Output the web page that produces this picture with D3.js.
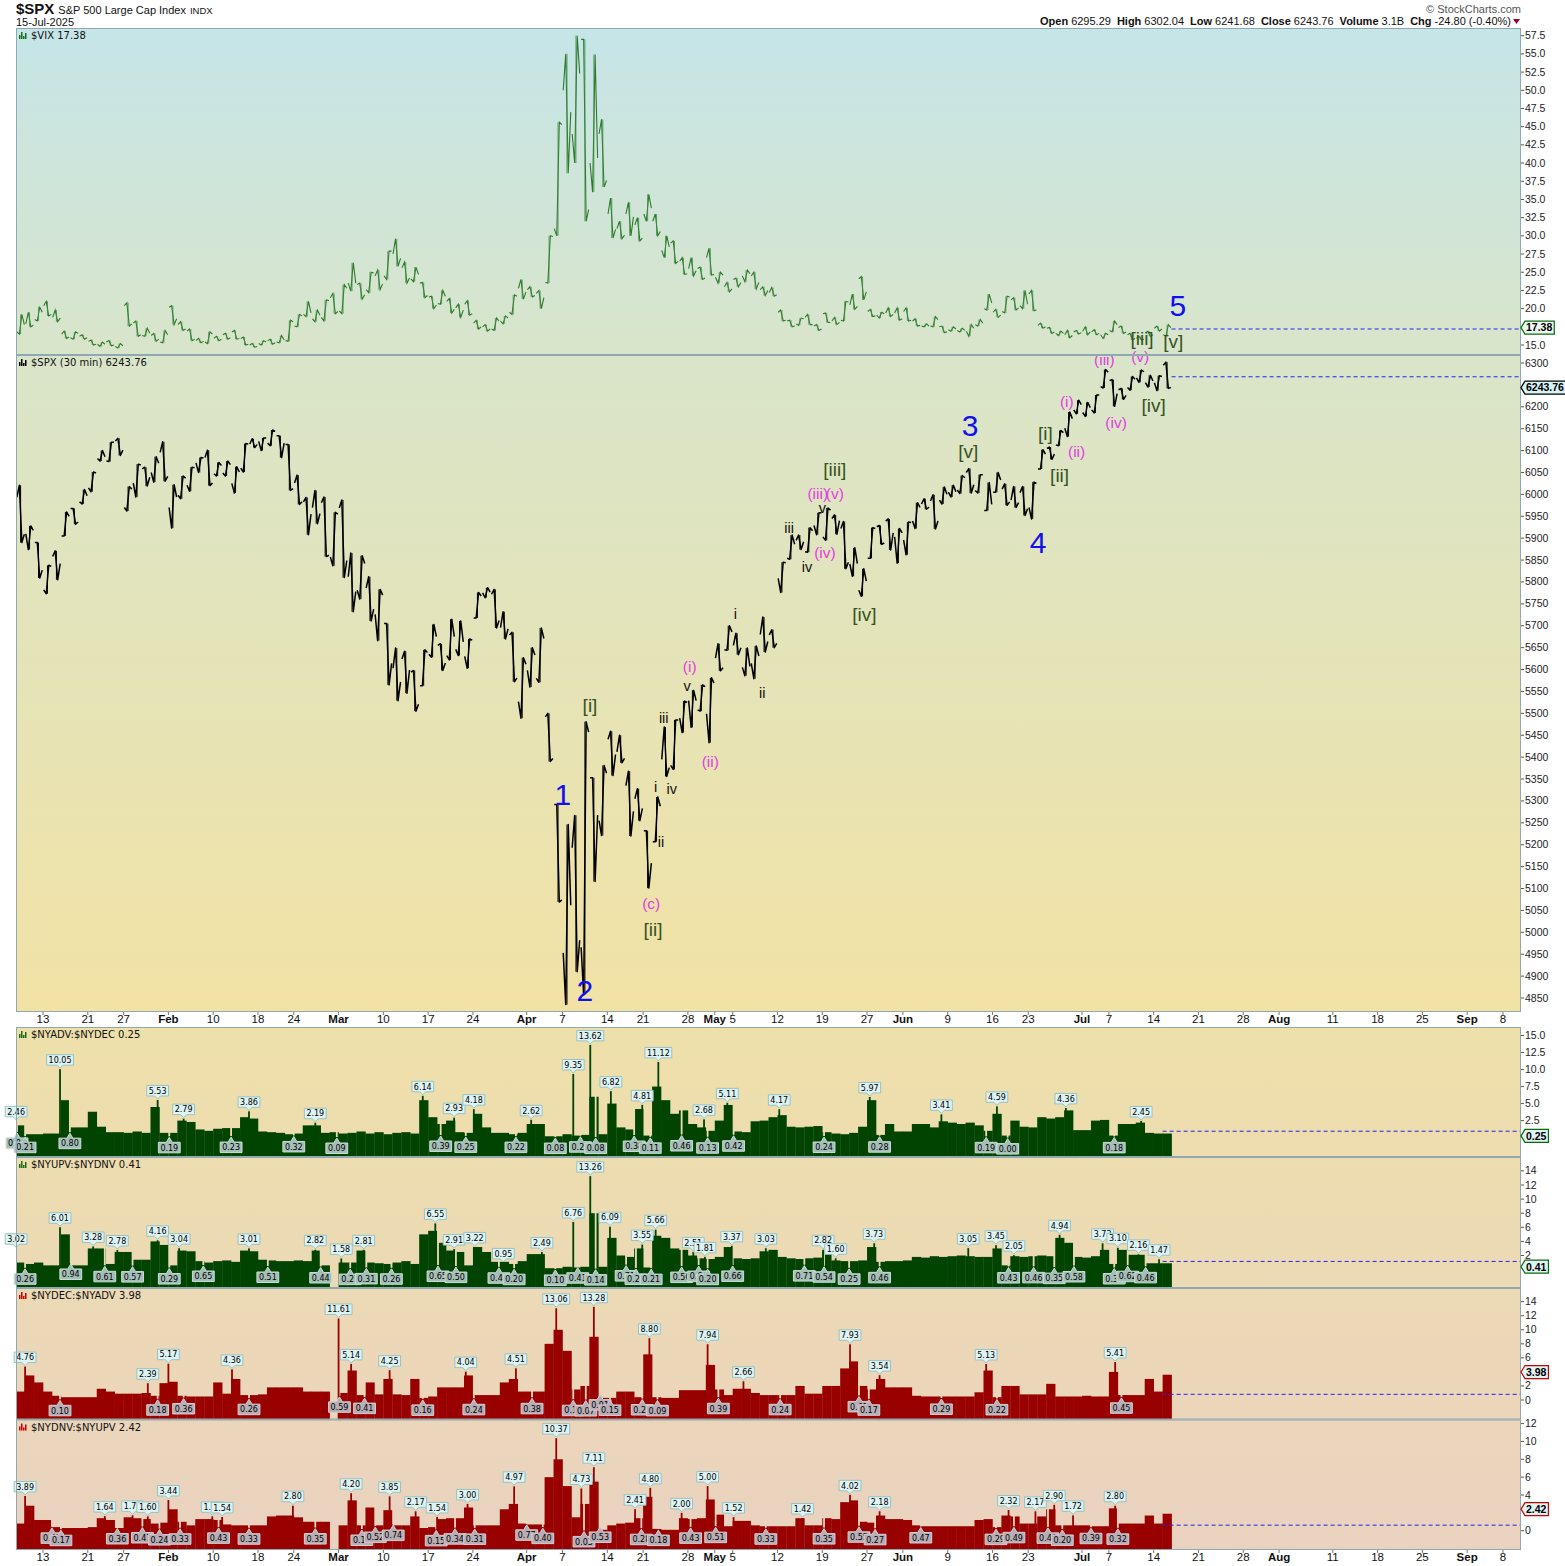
<!DOCTYPE html>
<html><head><meta charset="utf-8">
<script src="https://cdn.jsdelivr.net/npm/d3@7/dist/d3.min.js"></script>
<style>
html,body{margin:0;padding:0;background:#fff;}
</style></head><body>
<svg id="chart" width="1565" height="1566" font-family="'DejaVu Sans',Verdana,sans-serif"></svg>
<script>
// ================= DATA =================
// trading-day index: Jan 13 2025 = 0 ; first bar = Jan 7 (index -3), last = Jul 15 (index 125)
const firstIdx = -3;

// $SPX daily open/high/low/close (30-min bars condensed per session)
const spxOpen = [5993,5910,5890,
 5782,5858,5905,5968,5983,6015,6082,6076,6122,
 5970,6026,6058,6050,6096, 5970,5998,6021,6072,6084, 6047,6049,6025,6060,6115, 6121,6117,6134,6114,
 6026,5983,5970,5981,5857, 5969,5812,5781,5786,5726, 5705,5603,5624,5594,5563, 5635,5655,5632,5646,5630,
 5718,5775,5772,5696,5679, 5527,5598,5580,5492,5292, 4953,5193,4966,5353,5255, 5441,5412,5335,5305,
 5232,5207,5395,5381,5489, 5529,5508,5499,5626,5645, 5655,5605,5614,5680,5679, 5808,5854,5895,5869,5929,
 5903,5945,5922,5841,5781, 5854,5926,5939,5903, 5896,5939,5978,5985,5987, 6005,6010,6050,6009,5963,
 6005,6012,5987,6004, 5970,6058,6105,6113,6151, 6193,6187,6193,6246, 6260,6239,6244,6266,6255, 6255,6295];
const spxHigh = [6021,5928,5890,
 5838,5871,5960,5968,6011,6051,6100,6119,6128,
 6018,6069,6062,6086,6120, 6022,6042,6062,6084,6101, 6073,6076,6063,6116,6127, 6129,6147,6134,6114,
 6044,5993,6009,5994,5959, 5987,5866,5860,5812,5783, 5705,5649,5642,5598,5645, 5703,5659,5715,5711,5670,
 5776,5787,5783,5732,5685, 5627,5650,5695,5500,5292, 5246,5267,5481,5353,5381, 5459,5450,5368,5328,
 5232,5309,5469,5485,5528, 5553,5565,5581,5659,5700, 5683,5649,5654,5720,5691, 5845,5907,5907,5924,5958,
 5969,5953,5938,5878,5830, 5924,5929,5944,5922, 5937,5981,5990,5999,6017, 6021,6043,6059,6045,6027,
 6050,6024,6018,6018, 6028,6102,6108,6146,6188, 6215,6210,6227,6285, 6262,6242,6269,6284,6272, 6271,6302];
const spxLow = [5890,5874,5809,
 5773,5805,5905,5932,5978,6006,6076,6075,6089,
 5962,5994,6019,6028,6030, 5923,5990,6007,6050,6020, 6042,6042,6003,6051,6107, 6100,6111,6084,6009,
 5977,5908,5933,5858,5837, 5810,5732,5761,5711,5666, 5565,5529,5546,5505,5563, 5628,5598,5622,5632,5603,
 5718,5764,5695,5670,5572, 5489,5560,5571,5390,5069, 4835,4910,4857,5116,5221, 5358,5387,5220,5255,
 5101,5207,5356,5372,5456, 5468,5505,5433,5597,5644, 5634,5586,5579,5640,5650, 5776,5852,5874,5868,5908,
 5895,5909,5830,5813,5767, 5854,5886,5873,5843, 5862,5922,5966,5921,5978, 5994,6002,6003,6003,5963,
 6005,5975,5970,5952, 5944,6058,6080,6111,6132, 6184,6178,6186,6243, 6201,6217,6238,6256,6245, 6237,6242];
const spxClose = [5909,5918,5827,
 5836,5842,5950,5937,5997,6049,6086,6119,6101,
 6012,6067,6039,6071,6041, 5994,6037,6061,6083,6026, 6066,6068,6051,6115,6114, 6129,6144,6117,6013,
 5983,5955,5956,5861,5955, 5849,5778,5842,5738,5770, 5614,5572,5599,5521,5639, 5675,5615,5675,5663,5667,
 5768,5777,5712,5693,5581, 5612,5633,5671,5397,5074, 5062,4982,5457,5268,5363, 5406,5397,5276,5283,
 5158,5288,5376,5485,5525, 5529,5561,5569,5604,5686, 5650,5607,5631,5664,5660, 5844,5886,5892,5917,5958,
 5964,5940,5845,5842,5802, 5922,5889,5912,5912, 5936,5970,5971,5939,6000, 6006,6038,6022,6045,5977,
 6033,5983,5981,5967, 6025,6092,6092,6141,6173, 6205,6198,6227,6279, 6230,6226,6263,6280,6259, 6269,6244];

// $VIX daily open/high/low/close
const vixOpen = [16.8,17.9,18.5,
 20.4,18.8,16.5,16.0,16.2,15.5,15.1,15.4,14.8,
 20.4,18.0,16.3,16.3,15.4, 20.2,17.8,16.9,15.6,15.4, 15.9,16.4,16.8,15.9,15.0, 15.2,15.6,15.4,15.6,
 17.6,19.2,18.6,18.8,21.5, 19.7,23.5,23.3,22.6,24.5, 24.5,27.5,25.6,24.1,23.5, 21.6,20.7,21.0,20.1,20.6,
 18.0,17.5,17.2,18.3,19.5, 22.8,22.6,22.1,23.6,31.0, 50.0,44.0,57.0,40.0,44.0, 33.0,31.0,33.0,31.5,
 33.0,32.0,28.0,29.0,26.5, 25.5,25.5,27.0,24.3,23.0, 24.0,24.5,24.5,22.6,22.2, 19.5,18.3,17.9,18.8,17.6,
 19.3,18.3,18.4,20.5,24.1, 19.6,19.1,19.4,19.4, 19.6,18.3,17.6,17.6,17.5, 17.1,17.0,16.9,17.8,20.0,
 19.5,19.6,21.2,20.4, 22.0,17.7,17.3,16.6,16.4, 16.8,16.9,16.8,16.4, 17.0,17.4,16.4,15.9,16.7, 17.3,16.4];
const vixHigh = [19.2,19.5,20.2,
 21.0,19.8,16.9,16.8,16.4,15.7,15.4,15.6,15.2,
 20.8,18.3,17.3,16.6,17.0, 20.4,18.2,17.2,15.9,16.8, 16.2,16.6,17.0,16.1,15.2, 15.6,15.8,16.3,18.4,
 19.2,21.0,19.8,21.2,22.1, 23.3,26.3,23.5,25.0,25.3, 27.9,29.6,26.4,25.7,23.6, 21.7,22.5,21.4,20.6,21.1,
 18.4,17.8,18.7,19.0,21.9, 24.0,23.0,22.5,30.0,45.6, 55.0,57.5,57.0,54.9,46.0, 35.2,32.0,34.6,32.5,
 35.7,33.0,30.0,29.3,27.0, 27.0,25.7,28.3,25.0,23.6, 24.2,25.3,25.0,23.0,22.9, 19.8,18.4,18.7,19.2,17.8,
 19.4,18.8,21.0,22.0,24.4, 19.9,19.5,20.1,20.1, 20.1,18.6,17.9,18.9,17.6, 17.5,17.3,17.8,18.5,22.0,
 19.9,21.7,21.5,22.5, 22.5,18.0,17.4,16.9,17.0, 17.0,17.5,17.1,16.6, 18.3,17.6,16.6,16.2,16.9, 17.6,17.8];
const vixLow = [16.5,17.5,18.3,
 19.0,18.2,15.9,15.8,15.8,15.0,14.8,14.9,14.6,
 17.6,16.2,16.2,15.5,15.3, 17.8,17.0,15.6,15.3,15.2, 15.6,15.8,15.8,15.0,14.7, 15.0,15.1,15.3,15.5,
 17.5,18.9,18.2,18.3,19.3, 19.3,22.4,21.3,22.2,22.6, 24.0,25.8,23.5,23.7,21.5, 20.0,20.6,19.4,18.8,19.1,
 17.2,16.9,17.0,17.9,19.2, 21.3,21.6,20.0,23.5,30.0, 38.6,40.0,32.0,36.0,36.7, 29.7,29.6,30.0,29.3,
 32.0,30.0,27.0,26.2,24.7, 24.5,24.0,24.6,23.5,22.3, 23.0,23.7,22.7,21.8,21.7, 18.3,17.5,17.7,17.8,17.0,
 18.1,17.8,18.3,19.9,21.2, 18.9,18.7,18.9,18.4, 18.3,17.6,17.5,17.5,16.7, 16.9,16.8,16.2,17.6,19.8,
 18.8,19.4,19.8,20.0, 19.7,17.3,16.6,16.3,16.0, 16.5,16.4,16.4,15.9, 16.8,16.6,15.7,15.7,16.2, 16.9,16.2];
const vixClose = [17.8,17.7,19.5,
 19.2,18.7,16.1,16.6,16.0,15.1,15.1,15.0,14.9,
 17.9,16.4,16.6,15.8,16.4, 18.6,17.2,15.8,15.5,16.5, 15.8,16.0,15.9,15.1,14.8, 15.4,15.3,15.7,18.2,
 19.0,19.4,19.1,21.1,19.6, 22.8,23.5,21.9,24.9,23.4, 27.9,26.9,24.2,24.7,21.8, 20.5,21.7,19.9,19.8,19.3,
 17.5,17.2,18.3,18.7,21.7, 22.3,21.8,21.5,29.9,45.3, 47.0,52.3,33.6,40.7,37.6, 30.9,30.1,32.6,29.7,
 33.8,30.6,28.5,26.5,24.8, 25.2,24.2,24.7,24.6,22.7, 23.6,24.8,23.6,22.5,21.9, 18.4,17.6,18.6,17.8,17.2,
 18.1,18.1,20.9,20.3,22.3, 19.0,19.3,19.2,18.6, 18.4,17.7,17.6,18.5,16.8, 17.2,17.0,17.3,18.0,20.8,
 19.1,21.6,20.1,20.6, 19.8,17.5,16.8,16.6,16.3, 16.7,16.8,16.6,16.4, 17.8,16.8,15.9,15.8,16.4, 17.2,17.4];

// Breadth ratios, typical level per session (null = missing data)
const advDec = [1.8,0.5,0.5,
 0.6,0.6,5.5,1.5,1.5,3.8,1.6,0.8,0.8,
 0.7,0.9,0.7,4.5,0.7, 0.7,2.5,2.3,1.2,1.0, 1.3,1.4,1.4,3.0,2.8, 0.9,0.8,0.7,0.5,
 0.6,1.8,1.8,0.7,0.8, 0.6,0.7,0.9,0.6,0.8, 0.5,0.7,0.8,0.6,5.5, 3.0,2.0,2.5,0.8,0.7,
 3.5,1.5,0.7,0.7,0.5, 0.7,2.0,2.0,0.2,0.2, 0.5,0.3,0.4,6.0,0.5, 5.0,1.5,1.2,4.2,
 0.3,7.5,5.5,3.5,4.0, 2.0,1.5,1.0,2.5,4.8, 0.9,0.8,2.4,2.5,3.0, 3.3,1.6,1.5,1.6,1.7,
 0.8,0.6,0.5,0.7,1.6, 5.5,0.4,2.0,0.9, 0.9,2.0,2.0,1.5,2.4, 2.2,2.0,2.2,1.8,1.0,
 3.5,0.3,2.5,1.6, 1.5,3.0,2.8,3.0,4.0, 1.1,1.1,2.5,2.6, 0.3,2.0,2.0,2.2,0.7, 0.6,0.6];
const upvDnv = [1.0,0.8,1.0,
 0.6,0.6,5.0,0.6,0.6,3.0,3.0,0.8,2.5,
 2.5,1.4,1.4,4.0,3.5, 0.6,2.7,2.6,1.2,1.0, 1.2,1.3,1.1,2.7,2.6, 1.4,1.3,1.2,1.2,
 1.3,1.2,2.7,0.6,null, 1.0,1.0,2.7,1.0,0.9, 0.8,1.0,1.2,0.8,5.0, 5.5,3.8,2.7,2.5,0.6,
 3.2,2.5,1.1,1.1,0.8, 1.2,2.2,2.2,0.2,0.2, 0.4,0.3,0.4,8.0,0.4, 4.5,2.0,1.8,3.0,
 0.3,4.8,4.5,3.0,2.8, 2.0,1.6,1.5,1.8,3.2, 1.6,1.5,1.6,2.6,2.8, 1.8,1.6,1.5,1.6,1.7,
 2.6,1.3,1.2,1.2,1.3, 3.2,1.1,1.2,1.2, 1.3,1.8,1.7,1.9,1.8, 1.9,2.0,1.9,1.8,1.8,
 3.0,0.6,1.9,1.8, 1.9,2.0,1.9,4.5,3.8, 1.8,1.7,1.9,2.8, 0.8,2.8,2.1,2.1,0.9, 0.9,0.9];
const decAdv = [1.2,3.5,2.5,
 1.2,0.6,0.4,0.4,0.4,0.4,1.6,1.2,0.9,
 0.9,0.9,1.0,0.6,2.4, 2.6,0.6,0.5,0.5,0.5, 2.5,0.9,3.0,0.7,0.7, 0.8,1.8,1.8,1.8,
 1.8,1.2,1.2,1.2,null, 1.0,4.2,0.7,2.5,0.8, 3.0,0.8,0.7,3.0,0.3, 0.5,1.8,1.8,1.8,3.5,
 0.7,0.7,0.7,2.5,3.0, 1.2,1.2,1.2,8.0,10.0, 7.0,1.5,2.0,9.0,0.3, 0.3,1.2,1.2,0.4,
 6.5,0.4,0.3,0.3,1.4, 1.4,1.4,5.0,1.5,0.7, 1.6,1.6,1.0,0.7,0.7, 0.7,0.7,2.0,0.9,0.9,
 2.0,2.0,4.5,5.5,2.0, 1.5,3.0,1.8,1.8, 1.8,0.6,0.5,0.5,0.5, 0.5,0.5,0.5,1.1,4.2,
 0.4,2.0,2.0,0.8, 0.8,0.8,2.3,0.5,0.5, 0.5,0.6,0.5,0.5, 4.0,0.7,0.7,0.7,3.0, 1.2,3.6];
const dnvUpv = [0.8,2.8,1.2,
 1.2,0.4,0.3,0.3,0.3,0.4,1.4,1.2,0.3,
 1.5,1.4,1.3,0.8,0.9, 2.4,1.0,0.6,1.3,1.3, 1.2,0.7,0.6,0.6,0.6, 0.6,1.6,1.7,1.7,
 1.5,1.0,1.0,1.0,null, 0.6,3.4,0.6,2.6,0.6, 2.3,0.6,0.6,1.6,0.3, 0.4,1.3,1.4,1.4,2.6,
 0.6,0.6,0.6,2.4,3.0, 0.8,0.7,0.7,6.0,8.0, 5.0,1.5,3.0,5.5,0.1, 0.6,0.8,0.9,1.4,
 3.8,0.2,0.1,0.1,1.4, 1.3,1.4,3.5,1.8,0.5, 1.1,1.1,0.6,0.5,0.5, 0.5,0.5,1.4,0.6,0.6,
 1.4,1.3,3.2,3.4,1.0, 0.9,1.7,1.3,1.3, 1.2,0.6,0.5,0.5,0.5, 0.5,0.5,0.5,1.2,1.3,
 0.4,1.7,1.6,0.8, 0.8,1.6,2.4,0.6,0.6, 0.6,0.6,0.5,0.5, 2.5,0.8,0.8,0.8,1.7, 0.8,1.9];

// flagged extremes: [trading-day index, value]
const advDecPeaks = [[-3.0,2.46],[1.9,10.05],[12.8,5.53],[15.7,2.79],[23.0,3.86],[30.4,2.19],[42.4,6.14],[45.9,2.93],[48.1,4.18],[54.5,2.62],[59.2,9.35],[61.1,13.62],[63.4,6.82],[66.9,4.81],[68.7,11.12],[73.8,2.68],[76.4,5.11],[82.2,4.17],[92.3,5.97],[100.3,3.41],[106.5,4.59],[114.2,4.36],[122.6,2.45]];
const advDecTroughs = [[-2.9,0.84],[-2.0,0.21],[3.0,0.80],[14.1,0.19],[21.0,0.23],[28.0,0.32],[32.8,0.09],[44.4,0.39],[47.2,0.25],[52.8,0.22],[57.2,0.08],[60.0,0.28],[61.7,0.08],[66.0,0.38],[67.8,0.11],[71.3,0.46],[74.2,0.13],[77.1,0.42],[87.2,0.24],[93.4,0.28],[105.3,0.19],[107.7,0.00],[119.6,0.18]];
const upvDnvPeaks = [[-3.0,3.02],[1.9,6.01],[5.6,3.28],[8.3,2.78],[12.8,4.16],[15.2,3.04],[23.0,3.01],[30.4,2.82],[33.3,1.58],[35.8,2.81],[43.8,6.55],[45.9,2.91],[48.2,3.22],[51.4,0.95],[55.7,2.49],[59.2,6.76],[61.1,13.26],[63.3,6.09],[66.9,3.55],[68.4,5.66],[72.6,2.51],[73.9,1.81],[76.9,3.37],[80.7,3.03],[87.1,2.82],[88.5,1.60],[92.8,3.73],[103.3,3.05],[106.4,3.45],[108.4,2.05],[113.5,4.94],[118.3,3.73],[120.0,3.10],[122.3,2.16],[124.6,1.47]];
const upvDnvTroughs = [[-2.0,0.26],[3.1,0.94],[6.9,0.61],[10.0,0.57],[14.1,0.29],[17.9,0.65],[25.1,0.51],[31.0,0.44],[34.3,0.21],[36.1,0.31],[38.9,0.26],[44.1,0.65],[46.1,0.50],[50.9,0.40],[52.6,0.20],[57.2,0.10],[59.7,0.41],[61.7,0.14],[65.1,0.71],[66.2,0.23],[67.9,0.21],[71.3,0.50],[73.2,0.64],[74.2,0.20],[77.0,0.66],[85.0,0.71],[87.2,0.54],[90.0,0.25],[93.4,0.46],[107.8,0.43],[110.6,0.46],[112.9,0.35],[115.1,0.58],[119.6,0.30],[121.1,0.62],[123.1,0.46]];
const decAdvPeaks = [[-2.0,4.76],[11.7,2.39],[14.0,5.17],[21.1,4.36],[33.0,11.61],[34.4,5.14],[38.7,4.25],[47.2,4.04],[52.8,4.51],[57.3,13.06],[61.5,13.28],[67.7,8.80],[74.2,7.94],[78.2,2.66],[90.1,7.93],[93.4,3.54],[105.3,5.13],[119.7,5.41]];
const decAdvTroughs = [[1.9,0.10],[12.8,0.18],[15.7,0.36],[23.0,0.26],[33.1,0.59],[35.9,0.41],[42.4,0.16],[48.1,0.24],[54.6,0.38],[59.2,0.11],[60.6,0.07],[62.2,0.91],[63.3,0.15],[66.9,0.21],[68.6,0.09],[75.4,0.39],[82.3,0.24],[91.1,0.65],[92.2,0.17],[100.3,0.29],[106.5,0.22],[120.4,0.45]];
const dnvUpvPeaks = [[-2.0,3.89],[6.9,1.64],[10.0,1.72],[11.7,1.60],[14.0,3.44],[18.9,1.61],[20.0,1.54],[27.9,2.80],[34.4,4.20],[38.7,3.85],[41.6,2.17],[44.0,1.54],[47.4,3.00],[52.6,4.97],[57.3,10.37],[60.1,4.73],[61.5,7.11],[66.1,2.41],[67.8,4.80],[71.3,2.00],[74.2,5.00],[77.1,1.52],[84.8,1.42],[90.1,4.02],[93.4,2.18],[107.8,2.32],[110.8,2.17],[112.9,2.90],[115.0,1.72],[119.7,2.80]];
const dnvUpvTroughs = [[1.0,0.43],[2.0,0.17],[8.3,0.36],[11.1,0.47],[13.0,0.24],[15.3,0.33],[19.6,0.43],[23.0,0.33],[30.4,0.35],[35.6,0.19],[37.1,0.52],[39.1,0.74],[43.9,0.15],[46.0,0.34],[48.2,0.31],[54.0,0.77],[55.8,0.40],[60.4,0.03],[62.2,0.53],[66.8,0.28],[68.7,0.18],[72.3,0.43],[75.1,0.51],[80.7,0.33],[87.2,0.35],[91.1,0.55],[92.9,0.27],[98.0,0.47],[106.4,0.29],[108.4,0.49],[112.2,0.43],[113.8,0.20],[117.0,0.39],[120.0,0.32]];

// last values and previous-close reference lines
const lastValues = {vix:17.38, spx:6243.76, advDec:0.25, upvDnv:0.41, decAdv:3.98, dnvUpv:2.42};
const prevValues = {vix:17.20, spx:6268.56, advDec:0.94, upvDnv:1.16, decAdv:0.81, dnvUpv:0.62};

// x axis ticks (trading-day index)
const tickIdx = [0,5,9,14,19,24,28,33,38,43,48,54,58,63,67,72,75,77,82,87,92,96,101,106,110,116,119,124,129,134,138,144,149,154,159,163];
const tickLabels = ["13","21","27","Feb","10","18","24","Mar","10","17","24","Apr","7","14","21","28","May","5","12","19","27","Jun","9","16","23","Jul","7","14","21","28","Aug","11","18","25","Sep","8"];
const monthLabels = ["Feb","Mar","Apr","May","Jun","Jul","Aug","Sep"];

// y axis ticks
const vixTicks = [15.0,20.0,22.5,25.0,27.5,30.0,32.5,35.0,37.5,40.0,42.5,45.0,47.5,50.0,52.5,55.0,57.5];
const spxTicks = [4850,4900,4950,5000,5050,5100,5150,5200,5250,5300,5350,5400,5450,5500,5550,5600,5650,5700,5750,5800,5850,5900,5950,6000,6050,6100,6150,6200,6300];
const advDecTicks = [2.5,5.0,7.5,10.0,12.5,15.0];
const upvDnvTicks = [2,4,6,8,10,12,14];
const decAdvTicks = [0,2,6,8,10,12,14];
const dnvUpvTicks = [0,4,6,8,10,12];

// Elliott wave annotations: [text, trading-day index, price level, degree]
const waveLabels = [
 ["1",58.05,5314,"major"],["2",60.5,4868,"major"],["3",103.5,6158,"major"],["4",111.1,5891,"major"],["5",126.7,6432,"major"],
 ["[i]",61.07,5517,"inter"],["[ii]",68.1,5007,"inter"],["[iii]",88.4,6056,"inter"],["[iv]",91.7,5725,"inter"],["[v]",103.3,6097,"inter"],
 ["[i]",111.9,6140,"inter"],["[ii]",113.5,6042,"inter"],["[iii]",122.7,6355,"inter"],["[iv]",124.0,6204,"inter"],["[v]",126.2,6350,"inter"],
 ["(c)",67.9,5065,"minor"],["(i)",72.2,5606,"minor"],["(ii)",74.5,5391,"minor"],["(iii)",86.5,6001,"minor"],["(iv)",87.3,5868,"minor"],["(v)",88.4,6001,"minor"],
 ["(i)",114.3,6213,"minor"],["(ii)",115.4,6099,"minor"],["(iii)",118.5,6309,"minor"],["(iv)",119.8,6165,"minor"],["(v)",122.5,6314,"minor"],
 ["i",68.4,5332,"minute"],["ii",69.0,5206,"minute"],["iii",69.3,5489,"minute"],["iv",70.2,5327,"minute"],["v",71.9,5562,"minute"],
 ["i",77.3,5727,"minute"],["ii",80.3,5546,"minute"],["iii",83.3,5923,"minute"],["iv",85.3,5834,"minute"],["v",87.0,5969,"minute"]
];

// ================= LAYOUT =================
const L = 16, R = 1521;
const SANS = "'Liberation Sans',Arial,Helvetica,sans-serif";
const NARROW = "'Liberation Sans Narrow','Arial Narrow','Liberation Sans',Arial,sans-serif";
const svg = d3.select("#chart");
const defs = svg.append("defs");
const x = d3.scaleLinear().domain([0, 163]).range([43, 43 + 163 * 8.957]);

const P = {
  vix: {t:28, b:355, y: d3.scaleLinear().domain([15, 57.5]).range([345, 35.7])},
  spx: {t:355, b:1012, y: d3.scaleLinear().domain([4850, 6300]).range([998, 363])},
  advDec: {t:1027, b:1157, y: d3.scaleLinear().domain([2.5, 15]).range([1120.6, 1035.5])},
  upvDnv: {t:1157, b:1288, y: d3.scaleLinear().domain([2, 14]).range([1255.5, 1170.9])},
  decAdv: {t:1288, b:1419.5, y: d3.scaleLinear().domain([0, 14]).range([1400, 1301.7])},
  dnvUpv: {t:1419.5, b:1550, y: d3.scaleLinear().domain([0, 12]).range([1530.7, 1423.6])}
};

function grad(id, y1, y2, stops){
  const g = defs.append("linearGradient").attr("id", id).attr("gradientUnits","userSpaceOnUse")
    .attr("x1",0).attr("x2",0).attr("y1",y1).attr("y2",y2);
  stops.forEach(([o,c]) => g.append("stop").attr("offset", o).attr("stop-color", c));
}
grad("gTop", 28, 1012, [[0,"#c5e5e8"],[0.33,"#d9e5ca"],[1,"#f2e2a4"]]);
grad("gBot", 1027, 1550, [[0,"#eee0aa"],[1,"#ead2c0"]]);

Object.entries(P).forEach(([k,p]) => {
  defs.append("clipPath").attr("id","clip-"+k).append("rect").attr("x",L).attr("y",p.t).attr("width",R-L).attr("height",p.b-p.t);
});

svg.append("rect").attr("x",L).attr("y",28).attr("width",R-L).attr("height",1012-28).attr("fill","url(#gTop)");
svg.append("rect").attr("x",L).attr("y",1027).attr("width",R-L).attr("height",1550-1027).attr("fill","url(#gBot)");

// ---------- price bars (per-session zigzag through O/H/L/C plus range bar) ----------
function ohlcPath(O,Hh,Lo,C,yScale){
  const fr = [0.08,0.36,0.64,0.92];
  let d = "";
  O.forEach((o,i) => {
    const idx = firstIdx + i, h = Hh[i], l = Lo[i], c = C[i];
    const pts = c >= o ? [o,l,h,c] : [o,h,l,c];
    d += d3.line()(pts.map((v,k) => [x(idx+fr[k]), yScale(v)]));
  });
  return d;
}
function rangePath(Hh,Lo,yScale){
  let d = "";
  Hh.forEach((h,i) => {
    const idx = firstIdx + i;
    d += d3.line()([[x(idx+0.5), yScale(h)], [x(idx+0.5), yScale(Lo[i])]]);
  });
  return d;
}
const gv = svg.append("g").attr("clip-path","url(#clip-vix)");
gv.append("path").attr("d", ohlcPath(vixOpen,vixHigh,vixLow,vixClose,P.vix.y))
  .attr("fill","none").attr("stroke","#2d7a2d").attr("stroke-width",1.1);
gv.append("path").attr("d", rangePath(vixHigh,vixLow,P.vix.y))
  .attr("fill","none").attr("stroke","#3f8a3f").attr("stroke-width",0.8);
const gs = svg.append("g").attr("clip-path","url(#clip-spx)");
gs.append("path").attr("d", ohlcPath(spxOpen,spxHigh,spxLow,spxClose,P.spx.y))
  .attr("fill","none").attr("stroke","#000").attr("stroke-width",1.5).attr("stroke-linejoin","round");
gs.append("path").attr("d", rangePath(spxHigh,spxLow,P.spx.y))
  .attr("fill","none").attr("stroke","#000").attr("stroke-width",1);

// ---------- breadth areas ----------
const series = [
  ["advDec", advDec, advDecPeaks, advDecTroughs, "#004400", "#a5bfb8", "#c9ddd8"],
  ["upvDnv", upvDnv, upvDnvPeaks, upvDnvTroughs, "#004400", "#a5bfb8", "#c9ddd8"],
  ["decAdv", decAdv, decAdvPeaks, decAdvTroughs, "#990000", "#b8aeb6", "#d6ccd3"],
  ["dnvUpv", dnvUpv, dnvUpvPeaks, dnvUpvTroughs, "#990000", "#b8aeb6", "#d6ccd3"]
];
series.forEach(([k, vals, peaks, troughs, col]) => {
  const p = P[k], y = p.y;
  const g = svg.append("g").attr("clip-path", `url(#clip-${k})`);
  vals.forEach((v,i) => {
    if (v == null) return;
    const idx = firstIdx + i;
    g.append("rect").attr("x", x(idx)).attr("width", x(idx+1)-x(idx)+0.3)
      .attr("y", y(v)).attr("height", p.b - y(v)).attr("fill", col);
  });
  troughs.forEach(([idx,v]) => {
    g.append("rect").attr("x", x(idx)-0.9).attr("width",1.8).attr("y", p.t)
      .attr("height", Math.max(0, y(v) - p.t)).attr("fill","url(#gBot)");
  });
  peaks.forEach(([idx,v]) => {
    g.append("rect").attr("x", x(idx)-0.9).attr("width",1.8).attr("y", y(v))
      .attr("height", p.b - y(v)).attr("fill", col);
  });
});

// ---------- flags ----------
function flag(cx, cy, label, up, fill, stroke){
  const g = svg.append("g");
  const t = g.append("text").attr("font-size",8).attr("text-anchor","middle").attr("fill","#000").text(label);
  const w = t.node().getComputedTextLength() + 4, h = 10.5;
  let d, by;
  if (up) {
    by = cy - 4 - h;
    d = `M${cx-w/2},${by}H${cx+w/2}V${by+h}H${cx+3}L${cx},${cy-1}L${cx-3},${by+h}H${cx-w/2}Z`;
  } else {
    by = cy + 6;
    d = `M${cx-w/2},${by}H${cx-3}L${cx},${cy+1}L${cx+3},${by}H${cx+w/2}V${by+h}H${cx-w/2}Z`;
  }
  t.attr("x", cx).attr("y", by + h/2 + 3);
  g.insert("path", () => t.node()).attr("d", d).attr("fill", fill).attr("stroke", stroke).attr("stroke-width",1);
}
series.forEach(([k, vals, peaks, troughs, col, tFill, tStroke]) => {
  const y = P[k].y;
  troughs.forEach(([idx,v]) => flag(x(idx), y(v), v.toFixed(2), false, tFill, tStroke));
  peaks.forEach(([idx,v]) => flag(x(idx), y(v), v.toFixed(2), true, "#def3f3", "#98c2c2"));
});

// ---------- previous-close dashed lines ----------
[["vix", x(126)], ["spx", x(126)], ["advDec", x(125)], ["upvDnv", x(125)], ["decAdv", x(125)], ["dnvUpv", x(125)]].forEach(([k,x0]) => {
  const yy = P[k].y(prevValues[k]);
  svg.append("line").attr("x1", x0).attr("x2", R).attr("y1", yy).attr("y2", yy)
    .attr("stroke","#2222ee").attr("stroke-width",1).attr("stroke-dasharray","4,3");
});

// ---------- wave labels ----------
const waveStyle = {
  major: {size:30, fill:"#1010f0"},
  inter: {size:19, fill:"#35531c"},
  minor: {size:15.5, fill:"#e23ee2"},
  minute:{size:14.5, fill:"#111"}
};
waveLabels.forEach(([t, idx, pr, kind]) => {
  const s = waveStyle[kind];
  svg.append("text").attr("x", x(idx)).attr("y", P.spx.y(pr)).attr("text-anchor","middle")
    .attr("dominant-baseline","central").attr("font-family", SANS)
    .attr("font-size", s.size).attr("fill", s.fill).text(t);
});

// ---------- panel frames ----------
Object.values(P).forEach(p => {
  svg.append("rect").attr("x",L+0.5).attr("y",p.t+0.5).attr("width",R-L-1).attr("height",p.b-p.t-1)
    .attr("fill","none").attr("stroke","#8eaab0").attr("stroke-width",1);
});

// ---------- right axes ----------
function yAxis(k, ticks, fmt){
  const y = P[k].y;
  ticks.forEach(v => {
    const yy = y(v);
    svg.append("line").attr("x1",R).attr("x2",R+3).attr("y1",yy).attr("y2",yy).attr("stroke","#555");
    svg.append("text").attr("x",R+4).attr("y",yy+3.5).attr("font-size",10.5)
      .attr("font-family", SANS).attr("fill","#222").text(fmt(v));
  });
}
yAxis("vix", vixTicks, d3.format(".1f"));
yAxis("spx", spxTicks, d3.format("d"));
yAxis("advDec", advDecTicks, d3.format(".1f"));
yAxis("upvDnv", upvDnvTicks, d3.format("d"));
yAxis("decAdv", decAdvTicks, d3.format("d"));
yAxis("dnvUpv", dnvUpvTicks, d3.format("d"));

function valueBox(k, text, stroke, fill){
  const yy = P[k].y(lastValues[k]);
  const g = svg.append("g");
  const t = g.append("text").attr("x",R+5).attr("y",yy+3.8).attr("font-size",10.5).attr("font-weight","bold")
    .attr("font-family", SANS).attr("fill","#000").text(text);
  const w = t.node().getComputedTextLength();
  g.insert("path", () => t.node()).attr("d", `M${R},${yy}L${R+4},${yy-6.5}H${R+7+w}V${yy+6.5}H${R+4}Z`)
    .attr("fill", fill).attr("stroke", stroke).attr("stroke-width",1.2);
}
valueBox("vix", "17.38", "#0a6a0a", "#eefaf2");
valueBox("spx", "6243.76", "#000", "#d6f3f7");
valueBox("advDec", "0.25", "#0a6a0a", "#e0f4f4");
valueBox("upvDnv", "0.41", "#0a6a0a", "#e0f4f4");
valueBox("decAdv", "3.98", "#cc0000", "#e0f4f4");
valueBox("dnvUpv", "2.42", "#cc0000", "#e0f4f4");

// ---------- x axis labels ----------
[1023, 1561].forEach(yy => {
  tickIdx.forEach((t,k) => {
    const lab = tickLabels[k];
    svg.append("text").attr("x", x(t)).attr("y", yy).attr("text-anchor","middle").attr("font-size",11.5)
      .attr("font-family", NARROW)
      .attr("font-weight", monthLabels.includes(lab) ? "bold" : "normal").attr("fill","#111").text(lab);
    svg.append("line").attr("x1", x(t)).attr("x2", x(t)).attr("y1", yy-11).attr("y2", yy-8).attr("stroke","#777");
  });
});

// ---------- panel titles ----------
function icon(xx, yy, col){
  [[0,4],[2,7],[4,3],[6,6]].forEach(([dx,h]) =>
    svg.append("rect").attr("x",xx+dx).attr("y",yy-h).attr("width",1.5).attr("height",h).attr("fill",col));
}
const titles = [
  ["vix", "$VIX 17.38", "#1a6e1a"],
  ["spx", "$SPX (30 min) 6243.76", "#000"],
  ["advDec", "$NYADV:$NYDEC 0.25", "#1a6e1a"],
  ["upvDnv", "$NYUPV:$NYDNV 0.41", "#1a6e1a"],
  ["decAdv", "$NYDEC:$NYADV 3.98", "#cc0000"],
  ["dnvUpv", "$NYDNV:$NYUPV 2.42", "#cc0000"]
];
titles.forEach(([k, t, col]) => {
  const yy = P[k].t + 11;
  icon(L+3, yy, col);
  svg.append("text").attr("x", L+15).attr("y", yy).attr("font-size",10).attr("fill","#111").text(t);
});

// ---------- header ----------
const hdr = svg.append("text").attr("x",16).attr("y",14).attr("font-family", SANS).attr("fill","#111");
hdr.append("tspan").attr("font-size",15).attr("font-weight","bold").text("$SPX");
hdr.append("tspan").attr("font-size",11).attr("dx",4).text("S&P 500 Large Cap Index");
hdr.append("tspan").attr("font-size",9.5).attr("dx",4).text("INDX");
svg.append("text").attr("x",16).attr("y",26).attr("font-size",11).attr("font-family", SANS).attr("fill","#111").text("15-Jul-2025");
svg.append("text").attr("x",R).attr("y",13).attr("text-anchor","end").attr("font-size",11)
  .attr("font-family", SANS).attr("fill","#555").text("© StockCharts.com");
const ohlc = svg.append("text").attr("x",R-10).attr("y",25).attr("text-anchor","end").attr("font-size",11)
  .attr("font-family", SANS).attr("fill","#111");
[["Open","6295.29"],["High","6302.04"],["Low","6241.68"],["Close","6243.76"],["Volume","3.1B"],["Chg","-24.80 (-0.40%)"]].forEach(([a,b],i) => {
  ohlc.append("tspan").attr("font-weight","bold").attr("dx", i ? 6 : 0).text(a);
  ohlc.append("tspan").attr("dx",3).text(b);
});
svg.append("path").attr("d", `M${R-8},${19}L${R-1},${19}L${R-4.5},${24}Z`).attr("fill","#a0002a");
</script>
</body></html>
